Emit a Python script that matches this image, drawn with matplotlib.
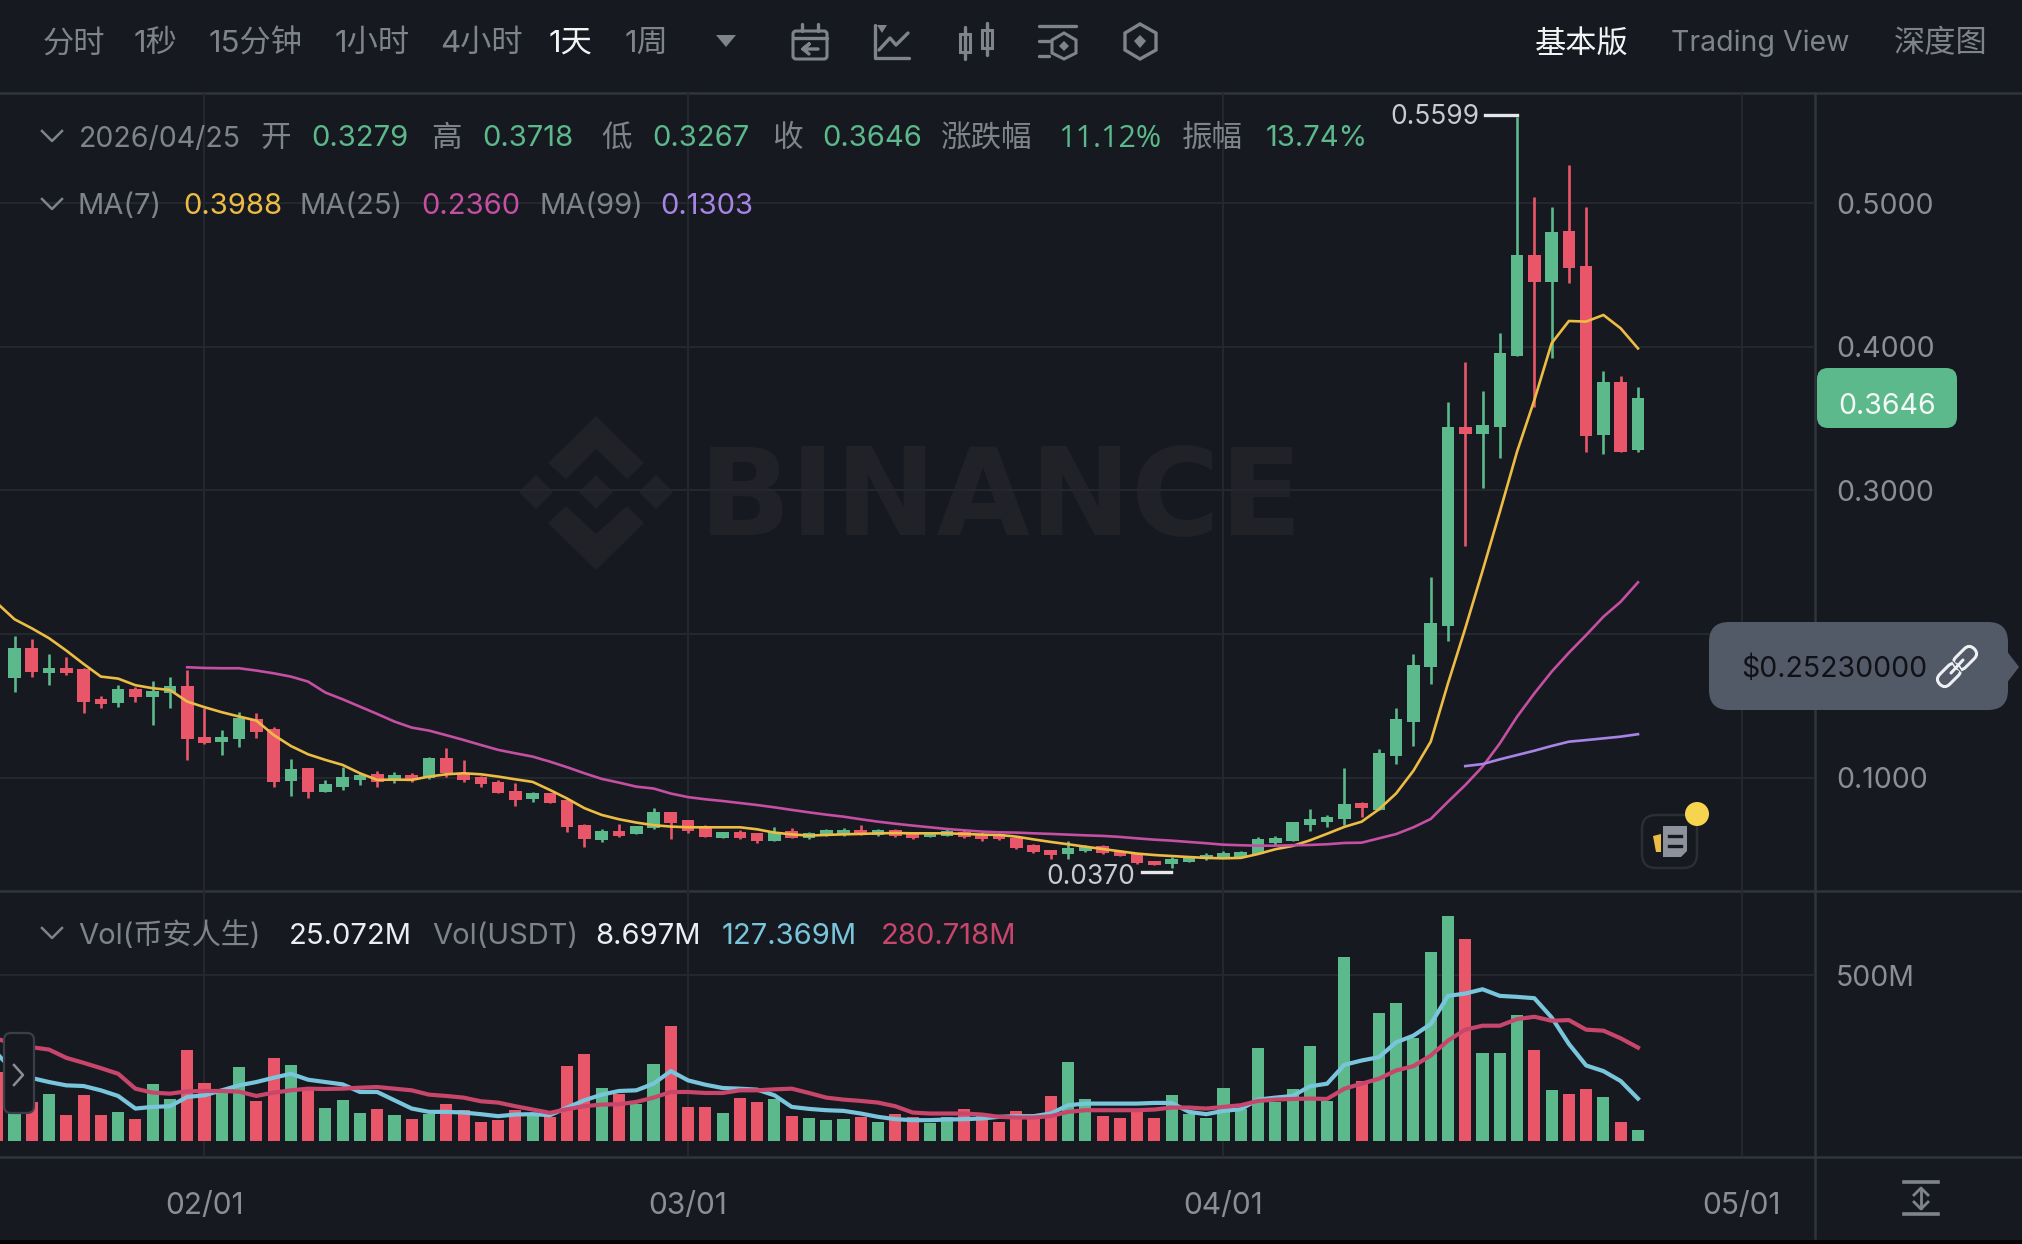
#!/usr/bin/env python3
"""Binance 1D kline screenshot, dark theme: candles + MA, volume + MA, header rows."""
import matplotlib; matplotlib.use('Agg')
import matplotlib.pyplot as plt
import matplotlib.dates as mdates
from matplotlib.patches import FancyBboxPatch, Polygon, Rectangle, Circle
from matplotlib.transforms import Affine2D
import numpy as np, pandas as pd

plt.rcParams['font.family']=['Inter','Noto Sans CJK SC','DejaVu Sans']

# 01/20 only shows its volume bar at the left edge, candles begin 01/21
dates=pd.date_range('2026-01-20','2026-04-25')
opens=[.1692,.1901,.1727,.1767,.1755,.1549,.1518,.1616,.1565,.1588,.1639,.1282,.1249,.1270,.1407,.1337,.0978,.1066,.0899,.0938,
 .0985,.1024,.0985,.1020,.0996,.1136,.1031,.1003,.0973,.0911,.0850,.0897,.0846,.0672,.0567,.0632,.0609,.0648,.0760,.0706,
 .0655,.0583,.0620,.0613,.0562,.0629,.0578,.0597,.0602,.0636,.0602,.0636,.0613,.0585,.0597,.0625,.0609,.0606,.0583,.0532,
 .0495,.0467,.0493,.0525,.0490,.0467,.0421,.0397,.0416,.0432,.0444,.0446,.0469,.0544,.0562,.0671,.0694,.0711,
 .0822,.0775,.1153,.1390,.1768,.2056,.3444,.3390,.3439,.3938,.4639,.4451,.4803,.4562,.3386,.3757,.3279]
closes=[.1901,.1739,.1767,.1727,.1530,.1511,.1616,.1560,.1607,.1639,.1268,.1245,.1286,.1414,.1317,.0973,.1059,.0899,.0957,.1003,
 .1020,.0973,.1020,.0985,.1140,.1031,.0985,.0955,.0897,.0846,.0897,.0827,.0655,.0572,.0632,.0595,.0665,.0760,.0688,.0632,
 .0590,.0620,.0583,.0562,.0625,.0578,.0618,.0636,.0636,.0606,.0636,.0597,.0578,.0620,.0629,.0590,.0571,.0571,.0513,.0481,
 .0462,.0513,.0520,.0479,.0458,.0404,.0390,.0435,.0444,.0462,.0479,.0486,.0571,.0583,.0694,.0715,.0725,.0815,
 .0787,.1170,.1409,.1784,.2074,.3443,.3390,.3455,.3954,.4639,.4451,.4801,.4550,.3381,.3757,.3270,.3646]
highs=[.1987,.1964,.1859,.1843,.1762,.1569,.1644,.1634,.1676,.1704,.1750,.1484,.1333,.1460,.1453,.1356,.1129,.1066,.0985,.1078,
 .1031,.1050,.1043,.1036,.1147,.1210,.1124,.1013,.0985,.0966,.0904,.0897,.0850,.0676,.0641,.0679,.0665,.0792,.0760,.0706,
 .0671,.0625,.0636,.0618,.0655,.0653,.0625,.0641,.0648,.0669,.0643,.0643,.0620,.0625,.0643,.0643,.0625,.0613,.0590,.0537,
 .0497,.0558,.0532,.0532,.0497,.0474,.0423,.0451,.0451,.0474,.0488,.0488,.0585,.0595,.0694,.0783,.0738,.1066,
 .0833,.1197,.1485,.1859,.2399,.3617,.3896,.3694,.4098,.5599,.5040,.4975,.5265,.4975,.3834,.3796,.3718]
lows=[.1600,.1699,.1646,.1716,.1453,.1484,.1491,.1530,.1368,.1488,.1124,.1233,.1159,.1217,.1275,.0938,.0876,.0857,.0899,.0915,
 .0950,.0938,.0962,.0973,.0989,.1008,.0973,.0938,.0897,.0804,.0834,.0822,.0625,.0521,.0556,.0586,.0609,.0641,.0572,.0618,
 .0590,.0578,.0574,.0548,.0562,.0578,.0576,.0597,.0597,.0602,.0597,.0590,.0571,.0585,.0597,.0578,.0562,.0567,.0502,.0479,
 .0437,.0432,.0481,.0467,.0455,.0400,.0390,.0370,.0414,.0428,.0439,.0444,.0469,.0530,.0562,.0632,.0660,.0671,
 .0724,.0775,.1095,.1221,.1652,.1954,.2613,.3014,.3223,.3938,.3583,.3919,.4441,.3270,.3254,.3270,.3267]
ma7=[.2214,.2103,.2040,.1971,.1885,.1792,.1704,.1690,.1644,.1623,.1611,.1530,.1491,.1456,.1426,.1398,.1298,.1221,.1163,.1124,
 .1089,.1031,.0985,.0987,.0985,.1008,.1024,.1031,.1024,.1008,.0989,.0971,.0915,.0855,.0788,.0741,.0711,.0688,.0670,.0660,
 .0655,.0655,.0655,.0655,.0641,.0618,.0606,.0597,.0602,.0606,.0609,.0613,.0615,.0613,.0613,.0613,.0609,.0604,.0602,.0590,
 .0571,.0553,.0537,.0520,.0504,.0488,.0472,.0462,.0455,.0448,.0442,.0439,.0442,.0469,.0502,.0525,.0564,.0610,.0658,.0694,
 .0780,.0891,.1049,.1251,.1657,.2040,.2440,.2850,.3270,.3629,.4024,.4179,.4175,.4221,.4128,.3988]
ma25=[.1769,.1764,.1762,.1762,.1746,.1727,.1704,.1669,.1593,.1546,.1495,.1444,.1391,.1349,.1328,.1296,.1263,.1228,.1194,.1170,
 .1147,.1112,.1073,.1031,.0992,.0966,.0938,.0925,.0890,.0865,.0850,.0838,.0824,.0810,.0794,.0776,.0759,.0743,.0729,.0711,
 .0694,.0680,.0667,.0655,.0643,.0634,.0625,.0620,.0618,.0613,.0609,.0604,.0599,.0595,.0588,.0578,.0569,.0562,.0553,.0544,
 .0534,.0530,.0527,.0527,.0530,.0532,.0537,.0546,.0548,.0578,.0608,.0655,.0713,.0833,.0949,.1077,.1239,.1425,.1587,.1738,
 .1870,.1993,.2121,.2225,.2360]
ma99=[.1081,.1095,.1128,.1158,.1188,.1221,.1251,.1262,.1274,.1286,.1303]
vols=[207,150,117,140,79,137,77,88,64,170,127,275,173,157,222,119,250,227,157,99,122,84,97,77,65,82,110,94,57,62,92,82,70,226,262,159,142,112,230,345,102,
 102,84,128,116,125,75,67,62,65,72,55,82,72,54,72,95,82,57,91,77,136,238,125,75,67,92,67,137,82,67,160,97,279,117,155,285,120,555,179,384,416,309,569,678,608,265,265,379,273,153,140,157,132,56,33]
vol_ma_a=[262,207,189,177,167,165,152,135,97,102,104,132,137,152,167,177,190,202,184,177,170,147,147,122,97,87,87,85,80,74,79,80,77,100,122,139,150,152,172,210,182,
 169,159,157,154,137,102,96,92,90,82,72,65,62,62,64,65,67,72,74,74,82,107,112,112,112,112,114,114,87,80,90,95,124,130,135,164,172,229,242,252,297,317,352,437,444,457,437,434,430,372,292,227,210,180,127]
vol_ma_b=[307,292,282,275,250,235,219,202,157,145,142,149,150,150,148,135,145,152,157,156,157,160,162,157,152,139,135,130,119,115,104,94,84,95,104,109,110,117,130,147,147,
 144,144,152,152,155,157,144,130,124,120,115,104,85,82,82,82,79,72,70,70,74,87,92,92,92,92,94,100,100,97,102,107,120,124,126,127,126,157,172,187,212,225,257,302,335,347,347,367,374,362,364,335,332,309,281]
price_ticks=[.1,.2,.3,.4,.5]
month_ticks=['2026-02-01','2026-03-01','2026-04-01','2026-05-01']

BG='#171920'; GRID='#24272d'; SEP='#2f343d'; GREY='#7f838c'; AXT='#8b8e95'
GREEN='#5bb98b'; RED='#e9566a'; C7='#ecbc45'; C25='#c44fa3'; C99='#a784e6'; CA='#79c6dc'; CB='#c8466c'
WM='#202228'
W,H=2022,1244

fig=plt.figure(figsize=(W/100,H/100),dpi=100,facecolor='#050506')
def box(x0,y0,x1,y1): return [x0/W,1-y1/H,(x1-x0)/W,(y1-y0)/H]
base=fig.add_axes([0,0,1,1],zorder=0); base.set_xlim(0,W); base.set_ylim(H,0); base.axis('off')
base.add_patch(Rectangle((0,0),W,1240,fc=BG,ec='none'))
ax=fig.add_axes(box(0,93,1815,891),zorder=1,facecolor='none')
vx=fig.add_axes(box(0,891,1815,1157),zorder=1,facecolor='none',sharex=ax)
ov=fig.add_axes([0,0,1,1],zorder=5,facecolor='none'); ov.set_xlim(0,W); ov.set_ylim(H,0); ov.axis('off')

# watermark
base.text(699,535,'BINANCE',color=WM,fontsize=87,weight='bold',family='DejaVu Sans',ha='left',va='baseline')
for cx_,r in [(596,17),(536,17),(656,17)]:
    base.add_patch(Polygon([(cx_-r,492),(cx_,492-r),(cx_+r,492),(cx_,492+r)],fc=WM,ec='none'))
base.add_patch(Polygon([(596,416),(644,463),(627,479),(596,449),(566,479),(548,463)],fc=WM,ec='none'))
base.add_patch(Polygon([(596,570),(644,523),(627,506),(596,534),(566,506),(548,523)],fc=WM,ec='none'))

# candles
x=mdates.date2num(dates)
cx=x[1:]; o,c,hi,lo=map(np.array,(opens,closes,highs,lows))
up=c>=o; col=np.where(up,GREEN,RED)
ax.vlines(cx,lo,hi,colors=col,lw=1.9,zorder=3)
ax.bar(cx,np.abs(c-o),bottom=np.minimum(o,c),width=.73,color=col,lw=0,zorder=3)
ax.plot(x,ma7,color=C7,lw=1.9,zorder=4)
ax.plot(x[-len(ma25):],ma25,color=C25,lw=1.9,zorder=4)
ax.plot(x[-len(ma99):],ma99,color=C99,lw=1.9,zorder=4)
# px per price: 1436.75 with 0.5 at y=203
ax.set_ylim(.02116,.5766)
ax.set_yticks(price_ticks); ax.set_yticklabels([f'{v:.4f}' for v in price_ticks])
ax.yaxis.tick_right()
ax.set_xlim(x[12]-11.84,x[12]+93.25)
ax.set_xticks(mdates.date2num(pd.to_datetime(month_ticks)))
ax.tick_params(axis='x',length=0,labelbottom=False)

# volume
vcol=np.where(np.r_[False,up],GREEN,RED)
vx.bar(x,vols,width=.70,color=vcol,lw=0,zorder=3)
vx.plot(x,vol_ma_a,color=CA,lw=3,zorder=4)
vx.plot(x,vol_ma_b,color=CB,lw=3,zorder=4)
vx.set_ylim(-49.2,753.5)
vx.set_yticks([500]); vx.set_yticklabels(['500M'])
vx.yaxis.tick_right()
vx.xaxis.set_major_formatter(mdates.DateFormatter('%m/%d'))

for a in (ax,vx):
    a.grid(True,color=GRID,lw=1.5,zorder=0); a.set_axisbelow(True)
    a.tick_params(length=0,colors=AXT)
    a.tick_params(axis='y',pad=15,labelsize=20.5)
    for s in a.spines.values(): s.set_visible(False)
vx.tick_params(axis='x',pad=25,labelsize=21.5)

# separators
for y in (93,891,1157): base.plot([0,W],[y,y],color=SEP,lw=1.8,zorder=1)
base.plot([1815,1815],[93,1238],color=SEP,lw=1.8,zorder=1)

def T(px,py,s,color=GREY,size=21,ha='left',**kw):
    ov.text(px,py,s,color=color,fontsize=size,ha=ha,va='center',**kw)
def chevron(px,py,r=10,color=GREY):
    ov.plot([px-r,px,px+r],[py-5,py+5,py-5],color=color,lw=1.8)

# header tabs
for px,s in [(43,'分时'),(134,'1秒'),(209,'15分钟'),(335,'1小时'),(440,'4小时'),(625,'1周')]:
    T(px,44,s,GREY,22.5)
T(549,44,'1天','#f2f3f5',22.5)
ov.add_patch(Polygon([(716,35),(736,35),(726,47)],fc=GREY,ec='none'))
T(1535,44,'基本版','#f2f3f5',22.5)
T(1671,43,'Trading View',GREY,20.5)
T(1894,44,'深度图',GREY,22.5)

# toolbar icons
ic=dict(color=GREY,lw=2.4,solid_capstyle='round')
ov.add_patch(FancyBboxPatch((793,31),34,28,boxstyle='round,pad=0,rounding_size=3',fc='none',ec=GREY,lw=2.2))
ov.plot([793,827],[38,38],**ic); ov.plot([802,802],[24,31],**ic); ov.plot([818,818],[24,31],**ic)
ov.plot([818,803,809,803,809],[49,49,44,49,54],**ic)
ov.plot([875,875,909],[25,58,58],**ic); ov.plot([879,890,896,908],[50,38,45,33],**ic)
ov.add_patch(Polygon([(877,25),(887,25),(882,33)],fc=GREY,ec='none'))
for px,y0,y1 in [(965,34,52),(987,30,48)]:
    ov.add_patch(Rectangle((px-5,y0),10,y1-y0,fc='none',ec=GREY,lw=2.2))
    ov.plot([px,px],[y0-7,y1+7],**ic)
ov.plot([1039,1076],[26,26],**ic); ov.plot([1039,1049],[41,41],**ic); ov.plot([1039,1049],[56,56],**ic)
ov.add_patch(Polygon([(1064,33),(1076,40),(1076,53),(1064,59),(1052,53),(1052,40)],fc='none',ec=GREY,lw=2.2))
ov.add_patch(Polygon([(1064,41),(1069,46),(1064,51),(1059,46)],fc=GREY,ec='none'))
ov.add_patch(Polygon([(1140,24),(1156,33),(1156,50),(1140,59),(1125,50),(1125,33)],fc='none',ec=GREY,lw=2.4))
ov.add_patch(Polygon([(1140,35),(1146,41),(1140,48),(1134,41)],fc=GREY,ec='none'))

# info rows
R1,R2,R3=139,206,936
chevron(52,136)
T(79,R1,'2026/04/25',size=20.5)
for px,s in [(260,'开'),(431,'高'),(601,'低'),(772,'收'),(941,'涨跌幅'),(1182,'振幅')]: T(px,R1,s,size=22)
for px,s in [(311,'0.3279'),(482,'0.3718'),(652,'0.3267'),(822,'0.3646'),(1266,'13.74%')]: T(px,R1,s,GREEN)
T(1058,R1,'11.12%',GREEN,22,family=['Open Sans','DejaVu Sans'])
chevron(52,204)
T(78,R2,'MA(7)'); T(299,R2,'MA(25)'); T(539,R2,'MA(99)')
T(183,R2,'0.3988',C7); T(421,R2,'0.2360',C25); T(660,R2,'0.1303',C99)
chevron(52,933)
T(78,R3,'Vol(币安人生)'); T(432,R3,'Vol(USDT)')
T(289,R3,'25.072M','#eceef1'); T(595,R3,'8.697M','#eceef1')
T(722,R3,'127.369M',CA); T(881,R3,'280.718M',CB)

# extreme labels
T(1390,117,'0.5599','#c9cbd0',19); ov.plot([1485,1517],[115,115],color='#e6e7ea',lw=2.4)
T(1046,877,'0.0370','#c9cbd0',19); ov.plot([1142,1171],[872,872],color='#e6e7ea',lw=2.4)

# price badge
ov.add_patch(FancyBboxPatch((1817,368),140,60,boxstyle='round,pad=0,rounding_size=11',fc=GREEN,ec='none'))
T(1887,406,'0.3646','#f4f8f6',20.5,ha='center')

# link tooltip
ov.add_patch(Polygon([(2006,650),(2019,667),(2006,684)],fc='#525a68',ec='none'))
ov.add_patch(FancyBboxPatch((1709,622),299,88,boxstyle='round,pad=0,rounding_size=20',fc='#525a68',ec='none'))
T(1741,669,'$0.25230000','#0f1116',20.5)
for px,py in [(1949,675),(1965,658)]:
    ov.add_patch(FancyBboxPatch((px-13,py-7),26,14,boxstyle='round,pad=0,rounding_size=7',fc='none',ec='#eef0f3',lw=2.2,
        transform=Affine2D().rotate_deg_around(px,py,-45)+ov.transData))
# gap between the two links, then the bar across it
ov.add_patch(Polygon([(1950,658),(1959,667),(1964,675),(1955,666)],fc='#525a68',ec='none'))
ov.plot([1951,1963],[673,660],color='#eef0f3',lw=2.2,solid_capstyle='round')

# news button
ov.add_patch(FancyBboxPatch((1642,815),55,53,boxstyle='round,pad=0,rounding_size=14',fc='none',ec='#2b2e35',lw=1.8))
ov.add_patch(Polygon([(1663,826),(1687,826),(1687,851),(1681,857),(1663,857)],fc='#8d919b',ec='none'))
for py in (836,846): ov.plot([1669,1681],[py,py],color=BG,lw=2.4)
ov.add_patch(Polygon([(1653,836),(1661,834),(1661,852),(1656,852)],fc='#ecbc45',ec='none'))
ov.add_patch(Circle((1697,814),12,fc='#f6d450',ec='none'))

# left handle
ov.add_patch(FancyBboxPatch((4,1033),30,80,boxstyle='round,pad=0,rounding_size=7',fc=BG,ec='#3a3e48',lw=1.6))
ov.plot([14,23,14],[1065,1075,1085],color='#8b8e95',lw=1.8)

# fit-scale icon
for py in (1182,1214): ov.plot([1904,1938],[py,py],color=GREY,lw=2.6)
ov.plot([1921,1921],[1189,1208],color=GREY,lw=2)
ov.plot([1914,1921,1928],[1195,1188,1195],color=GREY,lw=2); ov.plot([1914,1921,1928],[1202,1209,1202],color=GREY,lw=2)

fig.savefig('out.png',dpi=100,facecolor=fig.get_facecolor())
